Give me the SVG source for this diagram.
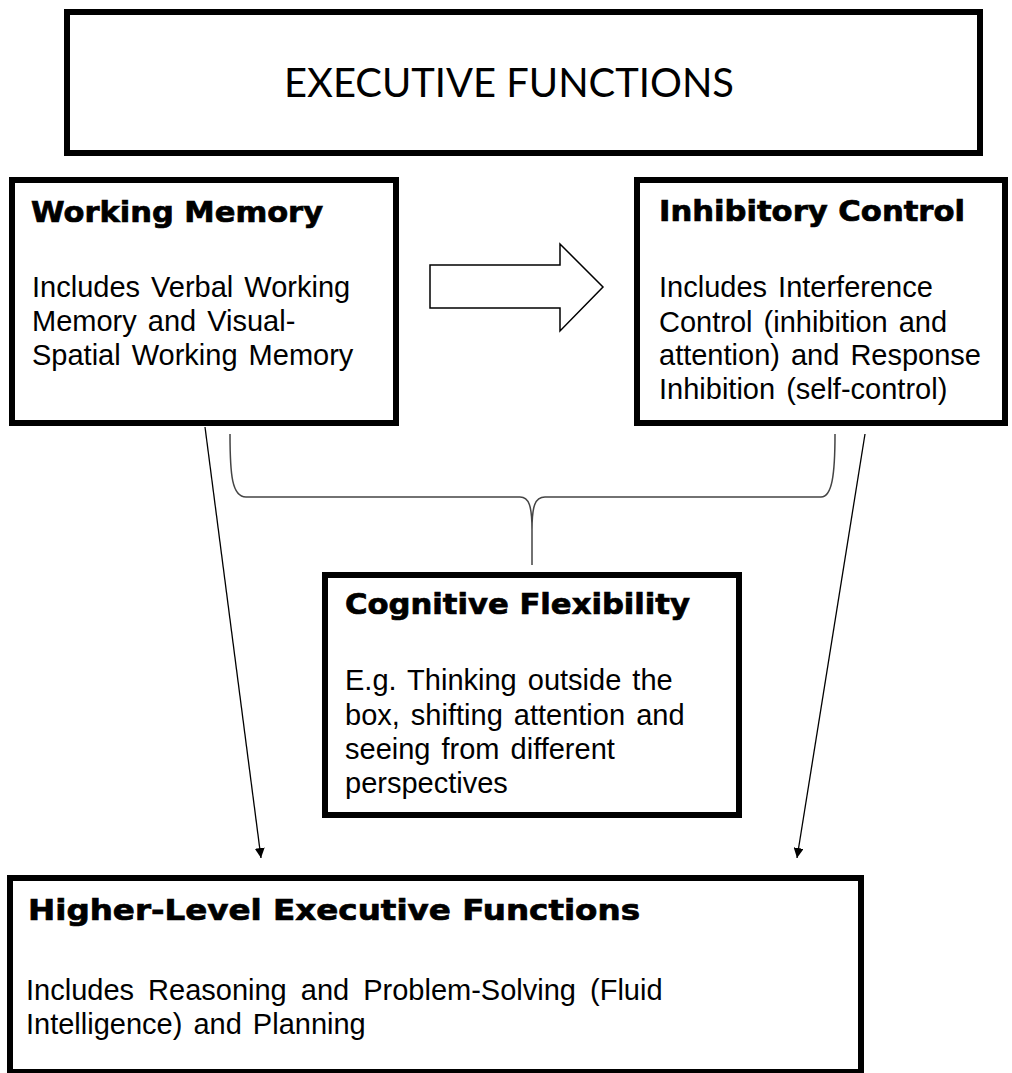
<svg xmlns="http://www.w3.org/2000/svg" width="1012" height="1073" viewBox="0 0 1012 1073">
<style>
.box{fill:#fff;stroke:#000;stroke-width:6}
.ttl{font-family:"DejaVu Sans","Liberation Sans",sans-serif;font-weight:bold;font-size:28px;fill:#000;stroke:#000;stroke-width:0.7}
.bd{font-family:"Liberation Sans",Arial,sans-serif;font-size:29px;fill:#000;word-spacing:3px}
.main{font-family:Lato,"Open Sans",sans-serif;font-size:40px;fill:#000}
.thin{fill:none;stroke:#000;stroke-width:1.3}
</style>
<defs>
<marker id="ah" viewBox="0 0 10 10" refX="10" refY="5" markerWidth="10" markerHeight="10" markerUnits="userSpaceOnUse" orient="auto">
<path d="M0,0 L10,5 L0,10 z" fill="#000"/>
</marker>
</defs>
<rect width="1012" height="1073" fill="#fff"/>
<g id="connectors">
<polygon points="430,265 560,265 560,244 603,287 560,331 560,308 430,308" fill="#fff" stroke="#000" stroke-width="1.5"/>
<line class="thin" x1="205" y1="427" x2="261" y2="858" marker-end="url(#ah)"/>
<line class="thin" x1="865" y1="434" x2="797" y2="858" marker-end="url(#ah)"/>
<path d="M230,434 C230,475 232,497 246,497 L520,497 C529,497 532,506 532,530 L532,565 M532,530 C532,506 535,497 545,497 L821,497 C832,497 835,475 835,434" fill="none" stroke="#444" stroke-width="1.5"/>
</g>
<g id="executive-functions">
<rect class="box" x="67" y="12" width="913" height="141"/>
<text class="main" x="284" y="97" textLength="450" lengthAdjust="spacingAndGlyphs">EXECUTIVE FUNCTIONS</text>
</g>
<g id="working-memory">
<rect class="box" x="12" y="180" width="384" height="243"/>
<text class="ttl" x="31" y="222" textLength="292" lengthAdjust="spacingAndGlyphs">Working Memory</text>
<text class="bd" x="32" y="297">Includes Verbal Working</text>
<text class="bd" x="32" y="331">Memory and Visual-</text>
<text class="bd" x="32" y="365">Spatial Working Memory</text>
</g>
<g id="inhibitory-control">
<rect class="box" x="637" y="180" width="368" height="243"/>
<text class="ttl" x="659" y="221" textLength="306" lengthAdjust="spacingAndGlyphs">Inhibitory Control</text>
<text class="bd" x="659" y="297">Includes Interference</text>
<text class="bd" x="659" y="332">Control (inhibition and</text>
<text class="bd" x="659" y="365">attention) and Response</text>
<text class="bd" x="659" y="399">Inhibition (self-control)</text>
</g>
<g id="cognitive-flexibility">
<rect class="box" x="325" y="575" width="414" height="240"/>
<text class="ttl" x="345" y="614" textLength="345" lengthAdjust="spacingAndGlyphs">Cognitive Flexibility</text>
<text class="bd" x="345" y="690">E.g. Thinking outside the</text>
<text class="bd" x="345" y="725">box, shifting attention and</text>
<text class="bd" x="345" y="759">seeing from different</text>
<text class="bd" x="345" y="793">perspectives</text>
</g>
<g id="higher-level">
<rect class="box" x="10" y="878" width="851" height="194"/>
<text class="ttl" x="28" y="920" textLength="612" lengthAdjust="spacingAndGlyphs">Higher-Level Executive Functions</text>
<text class="bd" x="26" y="1000" style="word-spacing:6px">Includes Reasoning and Problem-Solving (Fluid</text>
<text class="bd" x="26" y="1034">Intelligence) and Planning</text>
</g>
</svg>
